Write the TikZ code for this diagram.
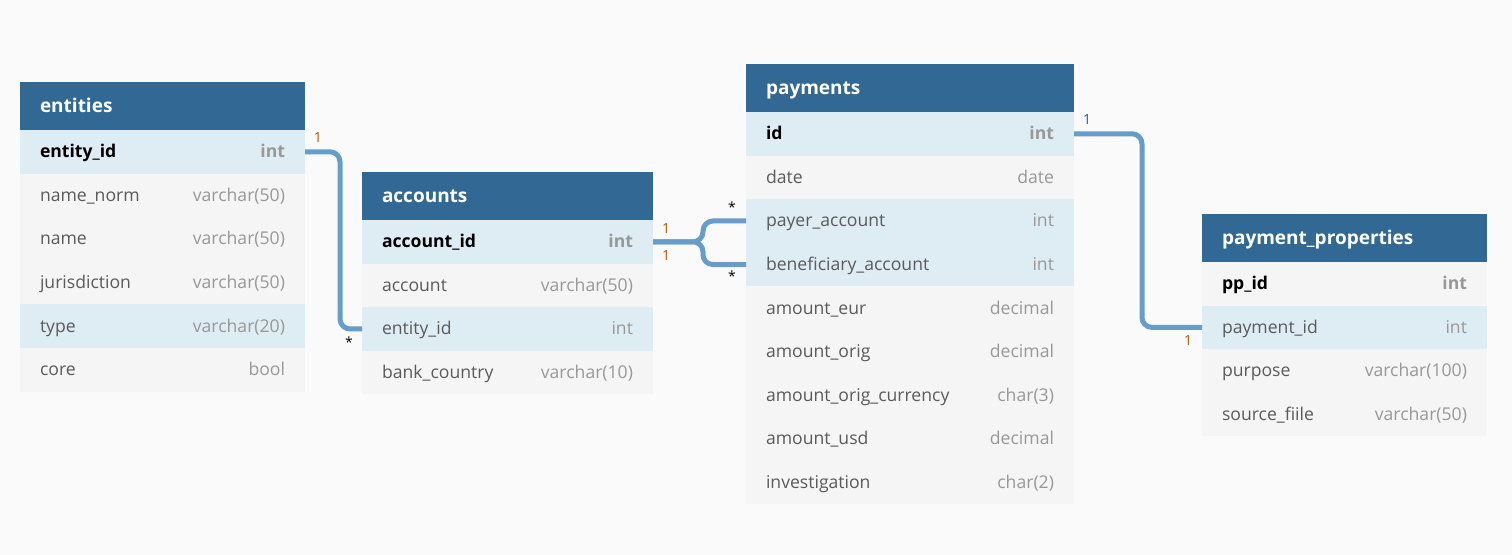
\documentclass[tikz,border=0pt]{standalone}
\usepackage{fontspec}
\setmainfont{Open Sans}
\usepackage{tikz}
\usetikzlibrary{positioning}

\definecolor{headblue}{HTML}{316894}
\definecolor{keyrow}{HTML}{DEECF4}
\definecolor{plainrow}{HTML}{F5F5F5}
\definecolor{canvas}{HTML}{FAFAFA}
\definecolor{linkblue}{HTML}{679DCB}
\definecolor{fieldgray}{HTML}{5A5A5A}
\definecolor{typegray}{HTML}{989898}
\definecolor{oneorange}{HTML}{B05A00}
\definecolor{oneblue}{HTML}{1F5BB0}

\newcommand{\gap}{\hskip 0pt plus 1filll}
\newcommand{\fld}[2]{\noindent{\color{fieldgray}#1}\gap{\color{typegray}#2}}
\newcommand{\pkfld}[2]{\noindent{\bfseries\color{black}#1}\gap{\bfseries\color{typegray}#2}}

\begin{document}
\begin{tikzpicture}[x=0.5pt, y=-0.5pt,
  tbl/.style={rectangle, inner xsep=10pt, inner ysep=0pt, outer sep=0pt, text width=#1},
  head/.style={tbl=#1, fill=headblue, minimum height=24pt, text=white,
    text height=9pt, text depth=2pt,
    font=\fontsize{9.5}{11}\selectfont\bfseries},
  krow/.style={tbl=#1, fill=keyrow, minimum height=21.8pt,
    text height=8pt, text depth=2pt, font=\fontsize{8.8}{10}\selectfont},
  prow/.style={tbl=#1, fill=plainrow, minimum height=21.8pt,
    text height=8pt, text depth=2pt, font=\fontsize{8.8}{10}\selectfont},
  card/.style={inner sep=0pt, font=\fontsize{7}{8}\selectfont},
  link/.style={draw=linkblue, line width=2.5pt, rounded corners=5pt}]

  \fill[canvas] (0,0) rectangle (1512,555);
  \useasboundingbox (0,0) rectangle (1512,555);

  % entities
  \node[head=122.5pt, anchor=north west] (ent) at (20,82) {entities};
  \node[krow=122.5pt, below=0pt of ent] (ent-eid) {\pkfld{entity\_id}{int}};
  \node[prow=122.5pt, below=0pt of ent-eid] (ent-norm) {\fld{name\_norm}{varchar(50)}};
  \node[prow=122.5pt, below=0pt of ent-norm] (ent-name) {\fld{name}{varchar(50)}};
  \node[prow=122.5pt, below=0pt of ent-name] (ent-jur) {\fld{jurisdiction}{varchar(50)}};
  \node[krow=122.5pt, below=0pt of ent-jur] (ent-type) {\fld{type}{varchar(20)}};
  \node[prow=122.5pt, below=0pt of ent-type] (ent-core) {\fld{core}{bool}};

  % accounts
  \node[head=125.5pt, anchor=north west] (acc) at (362,172) {accounts};
  \node[krow=125.5pt, below=0pt of acc] (acc-aid) {\pkfld{account\_id}{int}};
  \node[prow=125.5pt, below=0pt of acc-aid] (acc-acc) {\fld{account}{varchar(50)}};
  \node[krow=125.5pt, below=0pt of acc-acc] (acc-eid) {\fld{entity\_id}{int}};
  \node[prow=125.5pt, below=0pt of acc-eid] (acc-bank) {\fld{bank\_country}{varchar(10)}};

  % payments
  \node[head=144pt, anchor=north west] (pay) at (746,64) {payments};
  \node[krow=144pt, below=0pt of pay] (pay-id) {\pkfld{id}{int}};
  \node[prow=144pt, below=0pt of pay-id] (pay-date) {\fld{date}{date}};
  \node[krow=144pt, below=0pt of pay-date] (pay-payer) {\fld{payer\_account}{int}};
  \node[krow=144pt, below=0pt of pay-payer] (pay-benef) {\fld{beneficiary\_account}{int}};
  \node[prow=144pt, below=0pt of pay-benef] (pay-eur) {\fld{amount\_eur}{decimal}};
  \node[prow=144pt, below=0pt of pay-eur] (pay-orig) {\fld{amount\_orig}{decimal}};
  \node[prow=144pt, below=0pt of pay-orig] (pay-cur) {\fld{amount\_orig\_currency}{char(3)}};
  \node[prow=144pt, below=0pt of pay-cur] (pay-usd) {\fld{amount\_usd}{decimal}};
  \node[prow=144pt, below=0pt of pay-usd] (pay-inv) {\fld{investigation}{char(2)}};

  % payment_properties
  \node[head=122.5pt, anchor=north west] (pp) at (1202,214) {payment\_properties};
  \node[prow=122.5pt, below=0pt of pp] (pp-ppid) {\pkfld{pp\_id}{int}};
  \node[krow=122.5pt, below=0pt of pp-ppid] (pp-pid) {\fld{payment\_id}{int}};
  \node[prow=122.5pt, below=0pt of pp-pid] (pp-purp) {\fld{purpose}{varchar(100)}};
  \node[prow=122.5pt, below=0pt of pp-purp] (pp-src) {\fld{source\_fiile}{varchar(50)}};

  % relations
  \draw[link] (ent-eid.east) -- ++(35,0) |- (acc-eid.west);
  \coordinate (fork) at ([xshift=25pt]acc-aid.east);
  \draw[link] (acc-aid.east) -- (fork) |- (pay-payer.west);
  \draw[link] (acc-aid.east) -- (fork) |- (pay-benef.west);
  \draw[link] (pay-id.east) -- ++(68,0) |- (pp-pid.west);

  % cardinalities
  \node[card, text=oneorange] (c-ent) at (318,138) {1};
  \node[card] (c-acc) at (349,342) {*};
  \node[card, text=oneorange] (c-aid1) at (666,229) {1};
  \node[card, text=oneorange] (c-aid2) at (666,256) {1};
  \node[card] (c-payer) at (732,207) {*};
  \node[card] (c-benef) at (732,276) {*};
  \node[card, text=oneblue] (c-pid) at (1087,120) {1};
  \node[card, text=oneorange] (c-pp) at (1188,341) {1};

\end{tikzpicture}
\end{document}
